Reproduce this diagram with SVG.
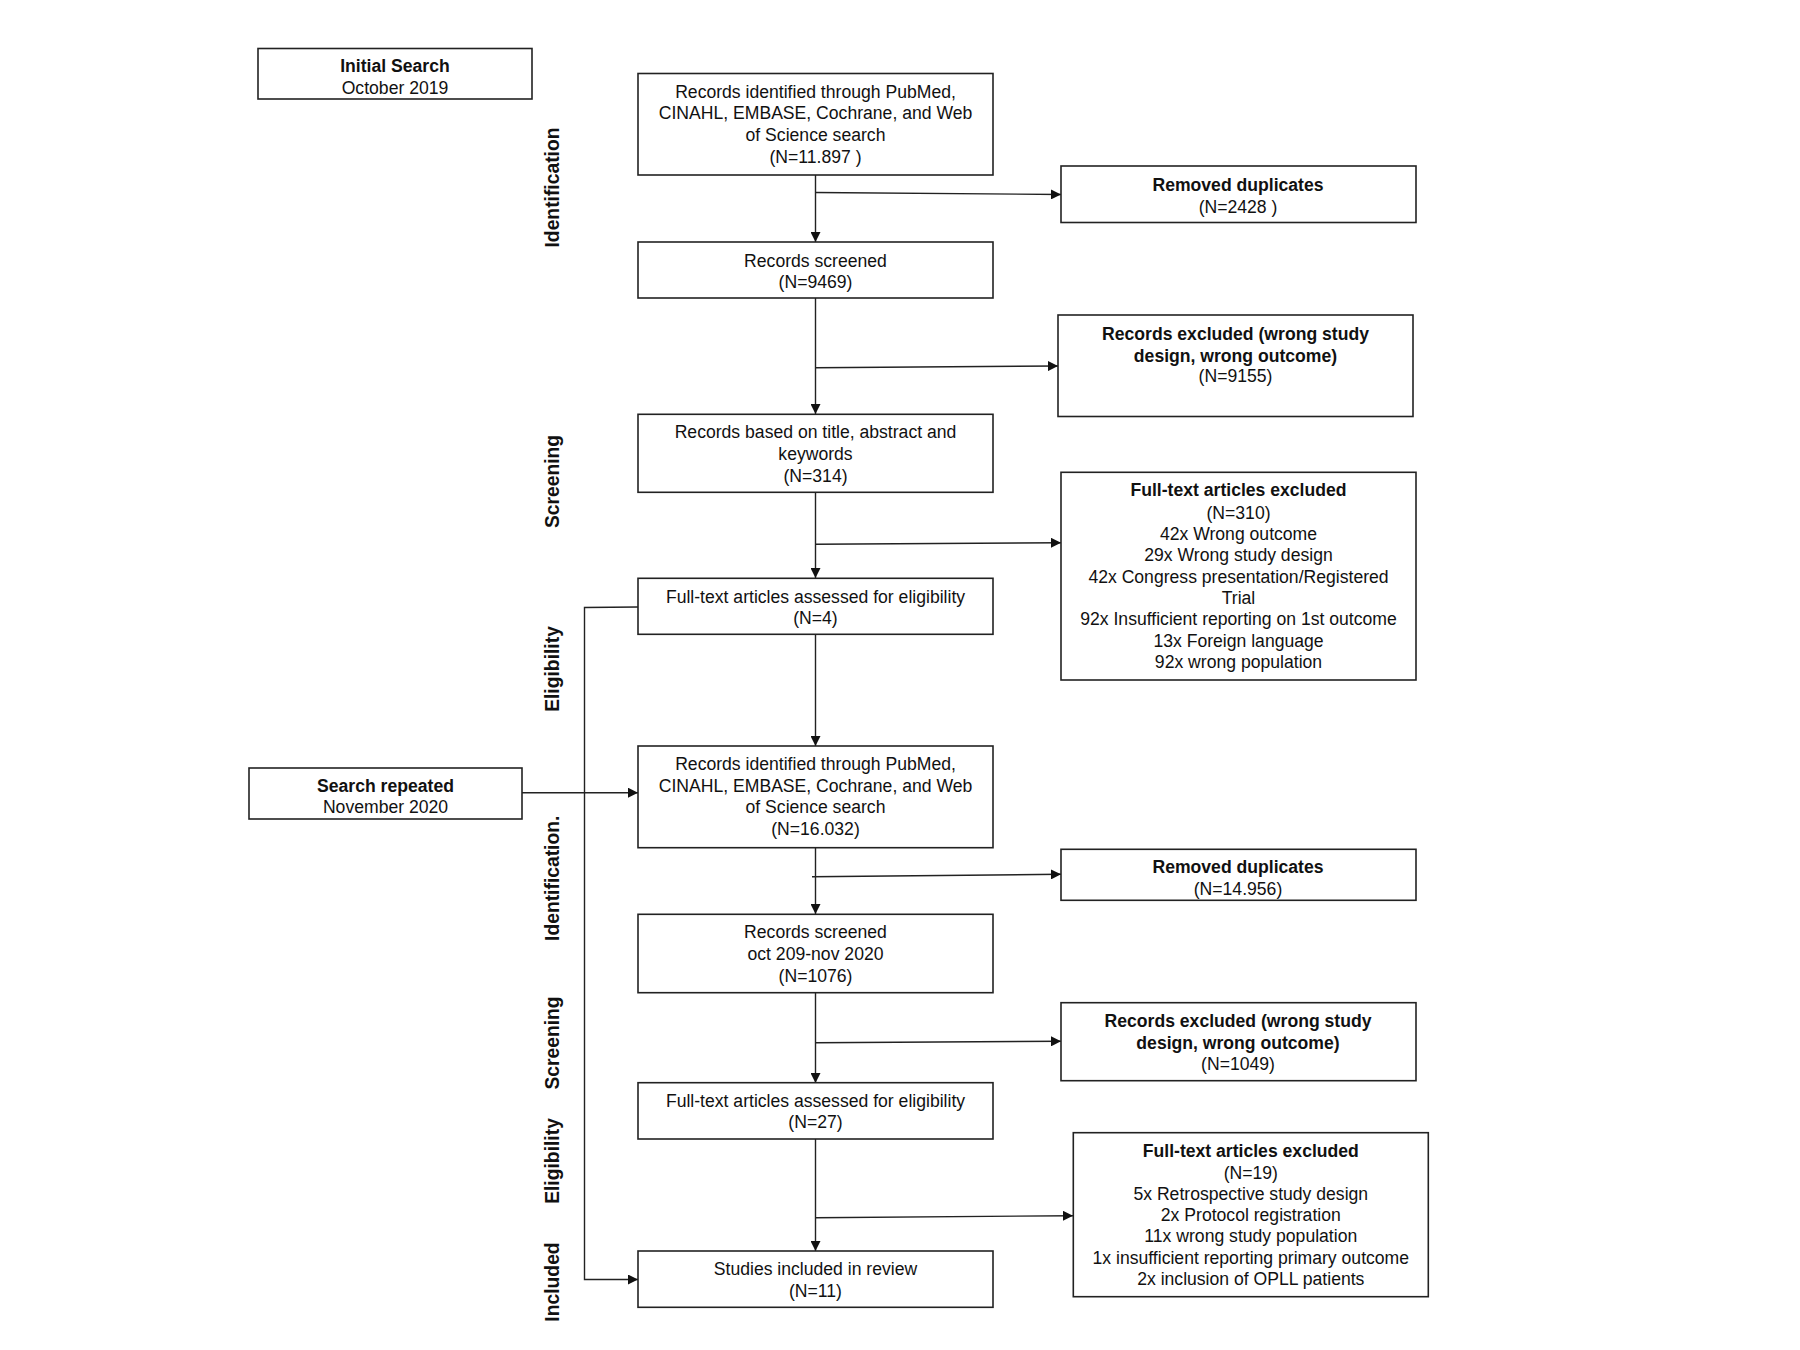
<svg xmlns="http://www.w3.org/2000/svg" width="1800" height="1350" viewBox="0 0 1800 1350">
<defs>
<marker id="arr" viewBox="0 0 10 10" refX="10" refY="5" markerWidth="10" markerHeight="10" markerUnits="userSpaceOnUse" orient="auto">
<path d="M0,0 L10,5 L0,10 z" fill="#111"/>
</marker>
<style>
.box{fill:#fff;stroke:#222;stroke-width:1.6}
.t{font-family:"Liberation Sans",Arial,sans-serif;font-size:17.6px;fill:#111;text-anchor:middle}
.b{font-weight:bold}
.lbl{font-family:"Liberation Sans",Arial,sans-serif;font-size:19.3px;font-weight:bold;fill:#111;text-anchor:middle}
.ln{fill:none;stroke:#222;stroke-width:1.4}
</style>
</defs>
<rect width="1800" height="1350" fill="#fff"/>

<g id="labels">
<text class="lbl" transform="translate(559,187.5) rotate(-90)">Identification</text>
<text class="lbl" transform="translate(559,481.5) rotate(-90)">Screening</text>
<text class="lbl" transform="translate(559,669) rotate(-90)">Eligibility</text>
<text class="lbl" transform="translate(559,878.3) rotate(-90)">Identification.</text>
<text class="lbl" transform="translate(559,1043) rotate(-90)">Screening</text>
<text class="lbl" transform="translate(559,1161) rotate(-90)">Eligibility</text>
<text class="lbl" transform="translate(559,1282) rotate(-90)">Included</text>
</g>

<g id="connectors">
<line class="ln" x1="815.5" y1="175" x2="815.5" y2="242" marker-end="url(#arr)"/>
<line class="ln" x1="815.5" y1="192.5" x2="1061" y2="194.5" marker-end="url(#arr)"/>
<line class="ln" x1="815.5" y1="298" x2="815.5" y2="414" marker-end="url(#arr)"/>
<line class="ln" x1="815.5" y1="367.7" x2="1058" y2="366" marker-end="url(#arr)"/>
<line class="ln" x1="815.5" y1="492" x2="815.5" y2="578" marker-end="url(#arr)"/>
<line class="ln" x1="815.5" y1="544.3" x2="1061" y2="542.7" marker-end="url(#arr)"/>
<line class="ln" x1="815.5" y1="634" x2="815.5" y2="746" marker-end="url(#arr)"/>
<line class="ln" x1="522" y1="792.7" x2="638" y2="792.7" marker-end="url(#arr)"/>
<line class="ln" x1="815.5" y1="848" x2="815.5" y2="914" marker-end="url(#arr)"/>
<line class="ln" x1="812" y1="876.7" x2="1061" y2="874.3" marker-end="url(#arr)"/>
<line class="ln" x1="815.5" y1="993" x2="815.5" y2="1083" marker-end="url(#arr)"/>
<line class="ln" x1="815.5" y1="1042.7" x2="1061" y2="1041.3" marker-end="url(#arr)"/>
<line class="ln" x1="815.5" y1="1139" x2="815.5" y2="1251" marker-end="url(#arr)"/>
<line class="ln" x1="815.5" y1="1217.7" x2="1073" y2="1215.7" marker-end="url(#arr)"/>
<path class="ln" d="M638,607 L584.5,607.5 L584.5,1279.5 L638,1279.5" marker-end="url(#arr)"/>
</g>

<g id="initial-search">
<rect class="box" x="258" y="48.5" width="274" height="50.5"/>
<text class="t b" x="395" y="72">Initial Search</text>
<text class="t" x="395" y="93.5">October 2019</text>
</g>

<g id="records-identified-1">
<rect class="box" x="638" y="73.5" width="355" height="101.5"/>
<text class="t" x="815.5" y="97.7">Records identified through PubMed,</text>
<text class="t" x="815.5" y="119.3">CINAHL, EMBASE, Cochrane, and Web</text>
<text class="t" x="815.5" y="141">of Science search</text>
<text class="t" x="815.5" y="162.7">(N=11.897 )</text>
</g>

<g id="removed-duplicates-1">
<rect class="box" x="1061" y="166" width="355" height="56.5"/>
<text class="t b" x="1238" y="190.7">Removed duplicates</text>
<text class="t" x="1238" y="212.5">(N=2428 )</text>
</g>

<g id="records-screened-1">
<rect class="box" x="638" y="242" width="355" height="56"/>
<text class="t" x="815.5" y="266.5">Records screened</text>
<text class="t" x="815.5" y="288.2">(N=9469)</text>
</g>

<g id="records-excluded-1">
<rect class="box" x="1058" y="315" width="355" height="101.5"/>
<text class="t b" x="1235.5" y="340">Records excluded (wrong study</text>
<text class="t b" x="1235.5" y="361.7">design, wrong outcome)</text>
<text class="t" x="1235.5" y="382.3">(N=9155)</text>
</g>

<g id="records-based">
<rect class="box" x="638" y="414.3" width="355" height="78"/>
<text class="t" x="815.5" y="438.3">Records based on title, abstract and</text>
<text class="t" x="815.5" y="460">keywords</text>
<text class="t" x="815.5" y="481.7">(N=314)</text>
</g>

<g id="fulltext-excluded-1">
<rect class="box" x="1061" y="472.3" width="355" height="207.7"/>
<text class="t b" x="1238.5" y="496">Full-text articles excluded</text>
<text class="t" x="1238.5" y="518.5">(N=310)</text>
<text class="t" x="1238.5" y="540">42x Wrong outcome</text>
<text class="t" x="1238.5" y="561.3">29x Wrong study design</text>
<text class="t" x="1238.5" y="582.7">42x Congress presentation/Registered</text>
<text class="t" x="1238.5" y="604">Trial</text>
<text class="t" x="1238.5" y="625.3">92x Insufficient reporting on 1st outcome</text>
<text class="t" x="1238.5" y="646.7">13x Foreign language</text>
<text class="t" x="1238.5" y="668">92x wrong population</text>
</g>

<g id="fulltext-assessed-1">
<rect class="box" x="638" y="578.3" width="355" height="56"/>
<text class="t" x="815.5" y="602.7">Full-text articles assessed for eligibility</text>
<text class="t" x="815.5" y="624.3">(N=4)</text>
</g>

<g id="search-repeated">
<rect class="box" x="249" y="768" width="273" height="51"/>
<text class="t b" x="385.5" y="791.7">Search repeated</text>
<text class="t" x="385.5" y="813.3">November 2020</text>
</g>

<g id="records-identified-2">
<rect class="box" x="638" y="746" width="355" height="101.7"/>
<text class="t" x="815.5" y="770">Records identified through PubMed,</text>
<text class="t" x="815.5" y="791.7">CINAHL, EMBASE, Cochrane, and Web</text>
<text class="t" x="815.5" y="813.3">of Science search</text>
<text class="t" x="815.5" y="835">(N=16.032)</text>
</g>

<g id="removed-duplicates-2">
<rect class="box" x="1061" y="849.3" width="355" height="51"/>
<text class="t b" x="1238" y="873.3">Removed duplicates</text>
<text class="t" x="1238" y="895">(N=14.956)</text>
</g>

<g id="records-screened-2">
<rect class="box" x="638" y="914.3" width="355" height="78.4"/>
<text class="t" x="815.5" y="938.3">Records screened</text>
<text class="t" x="815.5" y="960">oct 209-nov 2020</text>
<text class="t" x="815.5" y="981.7">(N=1076)</text>
</g>

<g id="records-excluded-2">
<rect class="box" x="1061" y="1002.7" width="355" height="78"/>
<text class="t b" x="1238" y="1027.3">Records excluded (wrong study</text>
<text class="t b" x="1238" y="1049">design, wrong outcome)</text>
<text class="t" x="1238" y="1070.3">(N=1049)</text>
</g>

<g id="fulltext-assessed-2">
<rect class="box" x="638" y="1082.7" width="355" height="56.3"/>
<text class="t" x="815.5" y="1106.7">Full-text articles assessed for eligibility</text>
<text class="t" x="815.5" y="1128.3">(N=27)</text>
</g>

<g id="fulltext-excluded-2">
<rect class="box" x="1073.3" y="1132.7" width="355" height="164"/>
<text class="t b" x="1250.8" y="1156.5">Full-text articles excluded</text>
<text class="t" x="1250.8" y="1178.5">(N=19)</text>
<text class="t" x="1250.8" y="1199.8">5x Retrospective study design</text>
<text class="t" x="1250.8" y="1221">2x Protocol registration</text>
<text class="t" x="1250.8" y="1242.3">11x wrong study population</text>
<text class="t" x="1250.8" y="1263.6">1x insufficient reporting primary outcome</text>
<text class="t" x="1250.8" y="1285">2x inclusion of OPLL patients</text>
</g>

<g id="studies-included">
<rect class="box" x="638" y="1251" width="355" height="56.3"/>
<text class="t" x="815.5" y="1275">Studies included in review</text>
<text class="t" x="815.5" y="1296.5">(N=11)</text>
</g>
</svg>
